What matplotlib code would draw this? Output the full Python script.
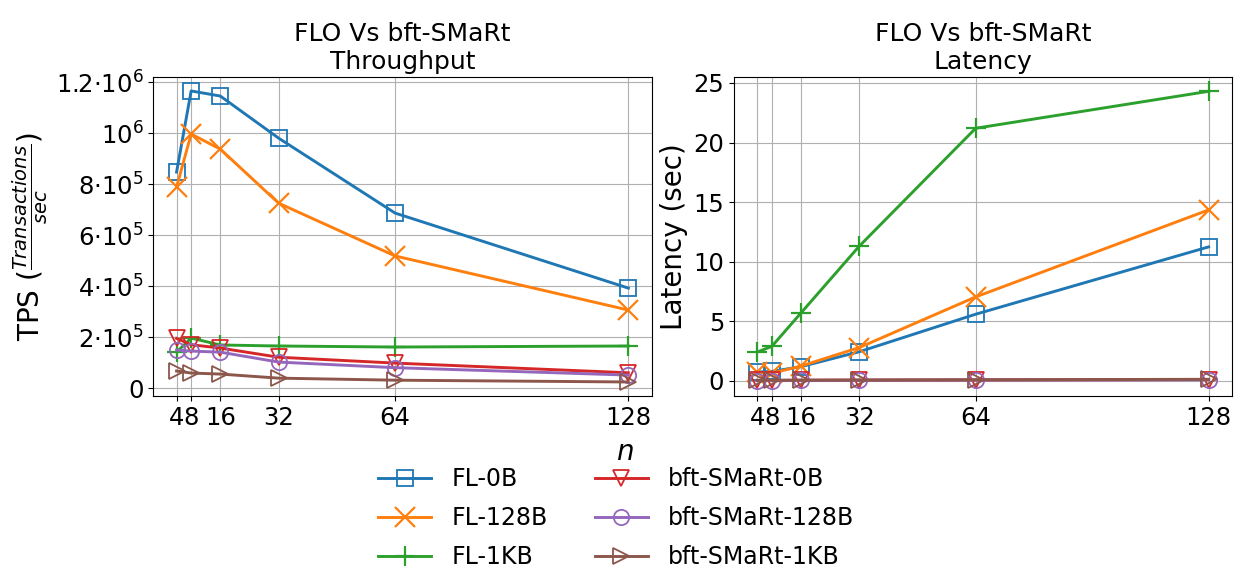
import matplotlib
matplotlib.use("Agg")
import matplotlib.pyplot as plt
from matplotlib.ticker import FuncFormatter

n = [4, 8, 16, 32, 64, 128]

tps_fl_0b = [847e3, 1165e3, 1145e3, 980e3, 686e3, 392e3]
tps_fl_128b = [788e3, 996e3, 937e3, 725e3, 518e3, 306e3]
tps_fl_1kb = [141e3, 196e3, 169e3, 165e3, 161e3, 165e3]
tps_bft_0b = [195e3, 170e3, 157e3, 121e3, 98e3, 60e3]
tps_bft_128b = [149e3, 145e3, 141e3, 102e3, 80e3, 51e3]
tps_bft_1kb = [67e3, 59e3, 55e3, 39e3, 31e3, 24e3]

lat_fl_0b = [0.75, 0.8, 1.2, 2.45, 5.6, 11.25]
lat_fl_128b = [0.75, 0.65, 1.25, 2.8, 7.05, 14.35]
lat_fl_1kb = [2.43, 2.9, 5.7, 11.3, 21.2, 24.3]
lat_bft_0b = [0.05, 0.05, 0.06, 0.07, 0.09, 0.12]
lat_bft_128b = [0.04, 0.04, 0.05, 0.06, 0.08, 0.1]
lat_bft_1kb = [0.06, 0.06, 0.07, 0.08, 0.1, 0.14]

labels = ["FL-0B", "FL-128B", "FL-1KB", "bft-SMaRt-0B", "bft-SMaRt-128B", "bft-SMaRt-1KB"]
markers = ["s", "x", "+", "v", "o", ">"]
colors = ["#1f77b4", "#ff7f0e", "#2ca02c", "#d62728", "#9467bd", "#8c564b"]

tps = [tps_fl_0b, tps_fl_128b, tps_fl_1kb, tps_bft_0b, tps_bft_128b, tps_bft_1kb]
lat = [lat_fl_0b, lat_fl_128b, lat_fl_1kb, lat_bft_0b, lat_bft_128b, lat_bft_1kb]

fig = plt.figure(figsize=(12.45, 5.73), dpi=100)
ax1 = fig.add_axes([0.1231, 0.3089, 0.4003, 0.5567])
ax2 = fig.add_axes([0.5895, 0.3089, 0.4000, 0.5567])

def style(m):
    if m in ("x", "+"):
        return dict(ms=14, mew=1.6)
    return dict(ms=11, mfc="none", mew=1.3)

handles = []
for lbl, m, c, y in zip(labels, markers, colors, tps):
    h, = ax1.plot(n, y, marker=m, color=c, lw=2.1, label=lbl, **style(m))
    handles.append(h)
for lbl, m, c, y in zip(labels, markers, colors, lat):
    ax2.plot(n, y, marker=m, color=c, lw=2.1, label=lbl, **style(m))

def tps_fmt(v, pos):
    if v == 0:
        return "0"
    if abs(v - 1e6) < 1:
        return r"$10^{6}$"
    if v >= 1e6:
        return r"$%g{\cdot}10^{6}$" % (v / 1e6)
    return r"$%g{\cdot}10^{5}$" % (v / 1e5)

ax1.set_yticks([0, 2e5, 4e5, 6e5, 8e5, 1e6, 1.2e6])
ax1.yaxis.set_major_formatter(FuncFormatter(tps_fmt))
ax1.set_ylim(-0.31e5, 1.2196e6)
ax2.set_yticks([0, 5, 10, 15, 20, 25])
ax2.set_ylim(-1.26, 25.5)

for ax in (ax1, ax2):
    ax.set_xticks(n)
    ax.set_xticklabels([str(v) for v in n])
    ax.grid(True)
    ax.tick_params(labelsize=17.5)
    ax.set_xlim(-2.4, 134.4)

ax1.set_title("FLO Vs bft-SMaRt\nThroughput", fontsize=18)
ax2.set_title("FLO Vs bft-SMaRt\nLatency", fontsize=18)
ax1.set_ylabel(r"TPS ($\frac{Transactions}{sec}$)", fontsize=20)
ax2.set_ylabel("Latency (sec)", fontsize=20)

fig.text(0.502, 0.212, r"$n$", fontsize=20, ha="center", va="center")
fig.legend(handles=handles, loc="upper center", bbox_to_anchor=(0.495, 0.206), ncol=2,
           frameon=False, fontsize=17, columnspacing=2.0, handlelength=2.25,
           handletextpad=0.85, labelspacing=0.64, borderpad=0.0)

fig.savefig("out.png", dpi=100)
